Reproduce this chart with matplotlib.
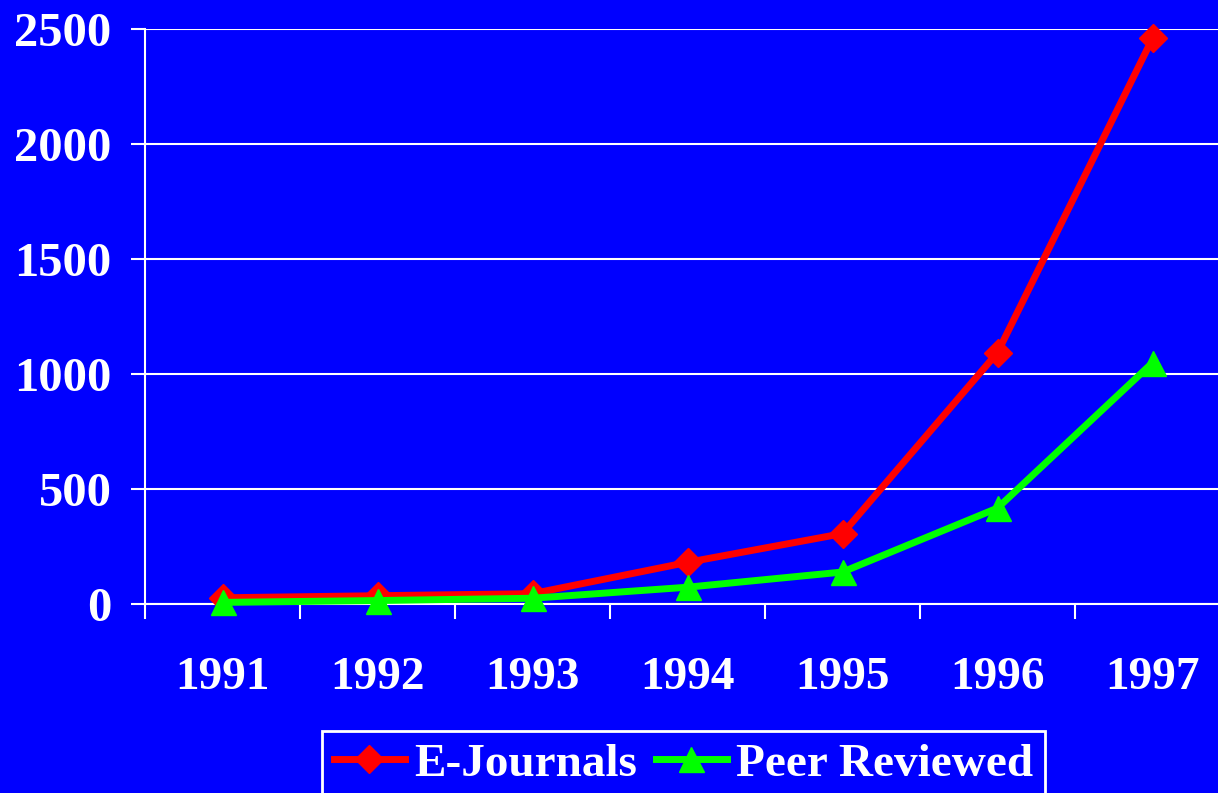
import matplotlib
matplotlib.use("Agg")
import matplotlib.pyplot as plt
from matplotlib.ticker import FixedLocator

years = ["1991", "1992", "1993", "1994", "1995", "1996", "1997"]
e_journals = [27, 36, 45, 181, 306, 1093, 2459]
peer_reviewed = [7, 15, 25, 73, 139, 417, 1049]
y_ticks = [0, 500, 1000, 1500, 2000, 2500]

BLUE = "#0000FF"
plt.rcParams["font.family"] = ["Liberation Serif", "DejaVu Serif"]
plt.rcParams["font.weight"] = "bold"

fig = plt.figure(figsize=(12.18, 7.93), dpi=100, facecolor=BLUE)
ax = fig.add_axes([145/1218, 1-604/793, (1230-145)/1218, (604-29)/793])
ax.set_facecolor(BLUE)

x = list(range(len(years)))
ax.plot(x, e_journals, color="#FF0000", lw=5, marker="D", markersize=14.5,
        label="E-Journals", clip_on=False, zorder=4)
ax.plot(x, peer_reviewed, color="#00FF00", lw=5, marker="^", markersize=18,
        label="Peer Reviewed", clip_on=False, zorder=5)

ax.set_xlim(-0.5, len(years) - 0.5)
ax.set_ylim(0, 2500)
ax.set_yticks(y_ticks)
ax.set_yticklabels([str(v) for v in y_ticks])
ax.set_xticks(x)
ax.set_xticklabels(years)
ax.xaxis.set_minor_locator(FixedLocator([i - 0.5 for i in range(len(years) + 1)]))

ax.grid(axis="y", color="white", lw=1.5, zorder=1)
for s in ["top", "right"]:
    ax.spines[s].set_visible(False)
for s in ["left", "bottom"]:
    ax.spines[s].set_color("white")
    ax.spines[s].set_linewidth(1.5)

ax.tick_params(axis="y", colors="white", direction="out", length=10, width=1.5,
               labelsize=35, pad=14)
ax.tick_params(axis="x", which="major", colors="white", length=0, labelsize=34, pad=38)
ax.tick_params(axis="x", which="minor", colors="white", direction="out", length=11, width=1.5)
for lab in ax.get_xticklabels() + ax.get_yticklabels():
    lab.set_fontweight("bold")

leg = ax.legend(loc="upper left", bbox_to_anchor=(322/1218, 1-731/793),
                bbox_transform=fig.transFigure, ncol=2, frameon=True, fancybox=False,
                prop={"size": 34, "weight": "bold"}, handlelength=1.5,
                handletextpad=0.2, columnspacing=0.4, borderpad=0.25,
                borderaxespad=0)
leg.get_frame().set_facecolor(BLUE)
leg.get_frame().set_edgecolor("white")
leg.get_frame().set_linewidth(2)
leg.get_frame().set_alpha(1)
for t in leg.get_texts():
    t.set_color("white")

fig.savefig("out.png", dpi=100, facecolor=BLUE)
